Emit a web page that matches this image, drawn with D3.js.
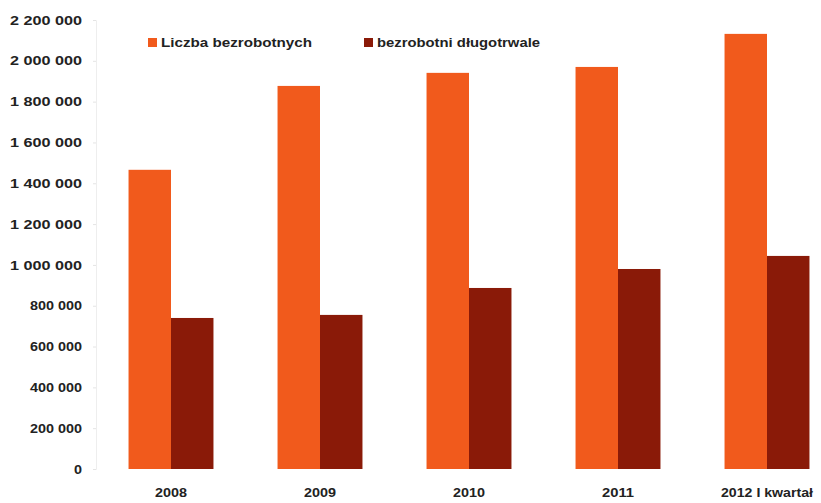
<!DOCTYPE html>
<html>
<head>
<meta charset="utf-8">
<script src="https://cdn.jsdelivr.net/npm/d3@7/dist/d3.min.js"></script>
<style>
  body { margin: 0; background: #fff; }
  svg { display: block; font-family: "Liberation Sans", Arial, sans-serif; }
</style>
</head>
<body>
<svg id="chart" width="821" height="503"></svg>
<script>
// unemployment in Poland: total vs long-term
const years = ["2008", "2009", "2010", "2011", "2012 I kwartał"];
const seriesNames = ["Liczba bezrobotnych", "bezrobotni długotrwale"];
const totalUnemployed = [1466000, 1877000, 1941000, 1970000, 2132000];
const longTerm = [740000, 755000, 887000, 980000, 1044000];
const yTicks = [0, 200000, 400000, 600000, 800000, 1000000, 1200000, 1400000, 1600000, 1800000, 2000000, 2200000];

const COLORS = ["#f15a1c", "#8a1a08"];

const svg = d3.select("#chart");

const x = d3.scaleBand()
  .domain(years)
  .range([96.5, 841.5])
  .paddingInner(0.43)
  .paddingOuter(0.215);

const sub = d3.scaleBand()
  .domain([0, 1])
  .range([0, x.bandwidth()]);

const y = d3.scaleLinear()
  .domain([0, 2200000])
  .range([469, 20]);

const fmt = (v) => d3.format(",")(v).replace(/,/g, " ");

// y axis
const yAxis = svg.append("g")
  .attr("transform", "translate(96,0)")
  .call(d3.axisLeft(y).tickValues(yTicks).tickSize(3).tickPadding(11).tickFormat(fmt));
yAxis.select(".domain").attr("stroke", "#eeeeee");
yAxis.selectAll(".tick line").attr("stroke", "#e4e4e4");
yAxis.selectAll("text")
  .attr("font-size", 13)
  .attr("font-weight", "bold")
  .attr("fill", "#222")
  .attr("textLength", (d) => (d >= 1000000 ? 72 : d > 0 ? 52 : 8))
  .attr("lengthAdjust", "spacingAndGlyphs");

// bars
const rows = years.map((yr, i) => ({ yr, vals: [totalUnemployed[i], longTerm[i]] }));

const groups = svg.append("g")
  .selectAll("g")
  .data(rows)
  .join("g")
  .attr("transform", (d) => `translate(${x(d.yr)},0)`);

groups.selectAll("rect")
  .data((d) => d.vals.map((v, k) => ({ v, k })))
  .join("rect")
  .attr("x", (d) => sub(d.k))
  .attr("y", (d) => y(d.v))
  .attr("width", sub.bandwidth())
  .attr("height", (d) => y(0) - y(d.v))
  .attr("fill", (d) => COLORS[d.k]);

// x labels
svg.append("g")
  .selectAll("text")
  .data(years)
  .join("text")
  .attr("x", (d) => x(d) + x.bandwidth() / 2)
  .attr("y", 497)
  .attr("text-anchor", "middle")
  .attr("font-size", 13)
  .attr("font-weight", "bold")
  .attr("fill", "#222")
  .attr("textLength", (d) => (d.length > 4 ? 92 : 32))
  .attr("lengthAdjust", "spacingAndGlyphs")
  .text((d) => d);

// legend
const legendX = [148, 364];
const legendW = [151, 163];
const legend = svg.append("g")
  .selectAll("g")
  .data(seriesNames)
  .join("g")
  .attr("transform", (d, i) => `translate(${legendX[i]},38)`);

legend.append("rect")
  .attr("width", 9)
  .attr("height", 9)
  .attr("fill", (d, i) => COLORS[i]);

legend.append("text")
  .attr("x", 13)
  .attr("y", 8.5)
  .attr("font-size", 12)
  .attr("font-weight", "bold")
  .attr("fill", "#222")
  .attr("textLength", (d, i) => legendW[i])
  .attr("lengthAdjust", "spacingAndGlyphs")
  .text((d) => d);
</script>
</body>
</html>
